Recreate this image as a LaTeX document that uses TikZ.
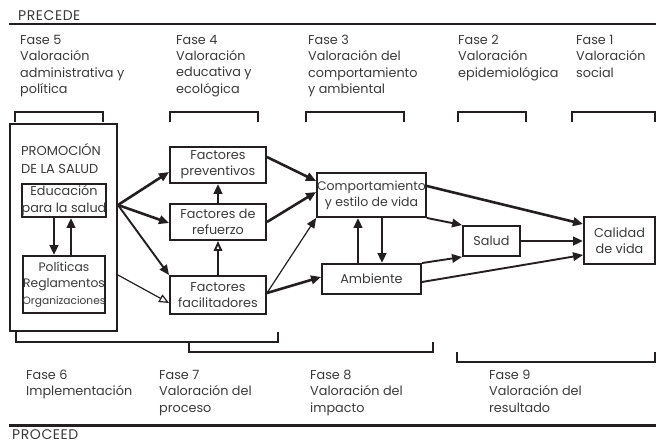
\documentclass[tikz,border=0pt]{standalone}
\usepackage{fontspec}
\setmainfont{Poppins}
\usetikzlibrary{arrows.meta,calc}
\definecolor{ink}{HTML}{231F20}
\definecolor{txt}{HTML}{3A3A3A}
\begin{document}
\begin{tikzpicture}[x=1pt,y=-1pt,
  every node/.style={text=txt,font=\fontsize{12.8}{16.3}\selectfont},
  box/.style={draw=ink,line width=1.9pt,inner sep=0pt,align=center},
  fase/.style={anchor=north west,inner sep=0pt,align=left},
  brk/.style={draw=ink,line width=1.6pt},
  rule/.style={draw=ink,line width=2.2pt},
  head/.style={anchor=west,inner sep=0pt,font=\fontsize{14}{15}\selectfont\addfontfeature{LetterSpace=4}},
  arr/.style={draw=ink,line width=2.6pt,-{Triangle[length=10pt,width=8.5pt]}},
  arrm/.style={draw=ink,line width=1.9pt,-{Triangle[length=10pt,width=8.5pt]}},
  arrt/.style={draw=ink,line width=1.2pt,-{Triangle[length=10pt,width=8.5pt]}},
  arro/.style={draw=ink,line width=1.2pt,-{Triangle[open,length=10pt,width=8.5pt]}},
  arrmo/.style={draw=ink,line width=1.9pt,-{Triangle[open,length=10pt,width=8.5pt]}}]
\useasboundingbox (0,0) rectangle (660,444);
% header / footer
\node[head] (precede) at (18,15.5) {PRECEDE};
\draw[rule] (9,24) -- (656,24);
\draw[rule] (9,425.5) -- (656,425.5);
\node[head] (proceed) at (12,435) {PROCEED};
% phase texts top
\node[fase] (f5) at (20,35) {Fase 5\\Valoración\\administrativa y\\política};
\node[fase] (f4) at (176,35) {Fase 4\\Valoración\\educativa y\\ecológica};
\node[fase] (f3) at (308,35) {Fase 3\\Valoración del\\comportamiento\\y ambiental};
\node[fase] (f2) at (458,35) {Fase 2\\Valoración\\epidemiológica};
\node[fase] (f1) at (576,35) {Fase 1\\Valoración\\social};
% top brackets
\draw[brk] (15,122) -- (15,112) -- (103,112) -- (103,122);
\draw[brk] (170,122) -- (170,112) -- (258,112) -- (258,122);
\draw[brk] (306,122) -- (306,112) -- (404,112) -- (404,122);
\draw[brk] (458,122) -- (458,112) -- (526,112) -- (526,122);
\draw[brk] (572,122) -- (572,112) -- (655,112) -- (655,122);
% bottom brackets
\draw[brk] (16,331) -- (16,342) -- (278,342) -- (278,332);
\draw[brk] (189,342) -- (189,352) -- (433,352) -- (433,342);
\draw[brk] (457,352) -- (457,362) -- (655,362) -- (655,352);
% phase texts bottom
\node[fase] (f6) at (26,370) {Fase 6\\Implementación};
\node[fase] (f7) at (159,370) {Fase 7\\Valoración del\\proceso};
\node[fase] (f8) at (310,370) {Fase 8\\Valoración del\\impacto};
\node[fase] (f9) at (489,370) {Fase 9\\Valoración del\\resultado};
% boxes
\node[box,minimum width=107pt,minimum height=207pt] (promo) at (63.5,227.5) {};
\node[anchor=north west,inner sep=0pt,align=left,font=\fontsize{13}{18}\selectfont] (promotxt) at (21,143) {PROMOCIÓN\\DE LA SALUD};
\node[box,minimum width=82pt,minimum height=33pt] (edu) at (64,200.5) {Educación\\para la salud};
\node[box,minimum width=82pt,minimum height=57pt,font=\fontsize{12.3}{16.5}\selectfont] (pol) at (64,284.5) {Políticas\\Reglamentos\\{\fontsize{10.6}{14}\selectfont Organizaciones}};
\node[box,minimum width=96pt,minimum height=36pt] (prev) at (218,165) {Factores\\preventivos};
\node[box,minimum width=96pt,minimum height=36pt] (ref) at (218,222) {Factores de\\refuerzo};
\node[box,minimum width=96pt,minimum height=38pt] (fac) at (218,295) {Factores\\facilitadores};
\node[box,minimum width=99pt,minimum height=44pt,font=\fontsize{12.5}{16}\selectfont] (comp) at (371.5,195) {Comportamiento\\y estilo de vida};
\node[box,minimum width=99pt,minimum height=30pt] (amb) at (371.5,279) {Ambiente};
\node[box,minimum width=57pt,minimum height=30pt] (salud) at (491.5,241) {Salud};
\node[box,minimum width=71pt,minimum height=47pt] (cal) at (619.5,240.5) {Calidad\\de vida};
% source points on promo box
\coordinate (p0) at (promo.east |- 0,205);
\coordinate (p1) at (promo.east |- 0,275);
% arrows
\draw[arr] (p0) -- ($(prev.west)+(0,7)$);
\draw[arr] (p0) -- ($(ref.west)+(0,1)$);
\draw[arrm] (p0) -- (fac.north west);
\draw[arro] (p1) -- ($(fac.west)+(0,8)$);
\draw[arr] (ref.north) -- (prev.south);
\draw[arrmo] (fac.north) -- (ref.south);
\draw[arr] ($(prev.east)+(0,-8)$) -- ($(comp.west)+(0,-14)$);
\draw[arr] (ref.east) -- ($(comp.west)+(0,-3)$);
\draw[arrt] ($(fac.east)+(0,-2)$) -- (comp.south west);
\draw[arr] ($(fac.east)+(0,-2)$) -- ($(amb.west)+(0,-2)$);
\draw[arr] ($(amb.north)+(-13.5,0)$) -- ($(comp.south)+(-13.5,0)$);
\draw[arr] ($(comp.south)+(10.5,0)$) -- ($(amb.north)+(10.5,0)$);
\draw[arr] ($(comp.east)+(0,-9)$) -- ($(cal.north west)+(0,8)$);
\draw[arrm] (comp.south east) -- (salud.north west);
\draw[arrm] (amb.north east) -- (salud.south west);
\draw[arrm] ($(amb.east)+(0,3)$) -- ($(cal.south west)+(0,-10)$);
\draw[arr] (salud.east) -- (salud.east -| cal.west);
\draw[arr] ($(edu.south)+(-10,0)$) -- ($(pol.north)+(-10,0)$);
\draw[arr] ($(pol.north)+(7,0)$) -- ($(edu.south)+(7,0)$);
\end{tikzpicture}
\end{document}
